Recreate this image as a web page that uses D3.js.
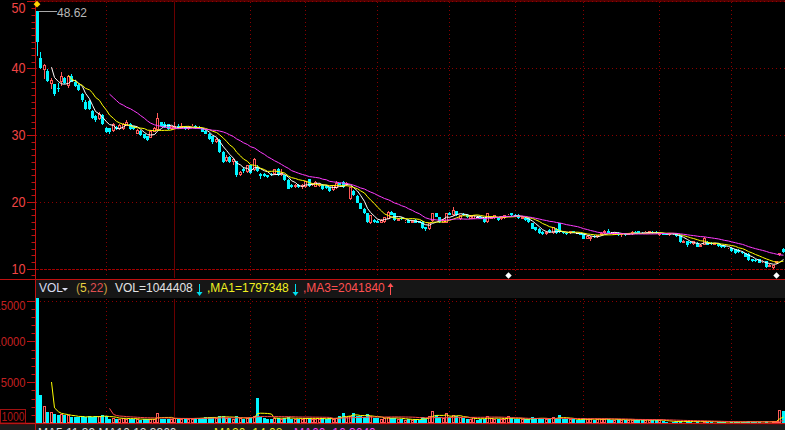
<!DOCTYPE html>
<html><head><meta charset="utf-8">
<script src="https://cdn.jsdelivr.net/npm/d3@7"></script>
<style>html,body{margin:0;padding:0;background:#000;overflow:hidden}svg{display:block}</style>
</head><body><svg id="c" width="785" height="430"></svg>
<script>
// ---- data ----
const open = [48.62,41.5,39.8,39.6,37.7,37.6,37.1,37.9,38.5,37.4,38.9,38.0,37.5,36.1,35.0,35.1,33.6,32.9,32.4,33.0,
31.0,31.0,30.6,31.2,30.9,30.9,31.4,31.7,31.3,30.2,30.6,30.1,29.8,29.6,30.5,30.8,31.9,31.7,31.6,30.9,
31.0,31.4,31.0,31.3,30.9,31.2,31.4,31.2,31.0,30.6,30.2,29.8,28.9,29.3,27.5,26.2,26.8,26.0,26.1,24.0,
25.0,24.5,25.5,24.8,25.3,24.2,24.2,24.0,24.2,24.2,25.0,24.0,24.0,23.3,22.5,22.3,22.6,22.3,22.2,23.4,
22.5,22.3,22.4,22.6,22.4,22.2,21.8,22.1,22.8,23.0,22.5,20.5,21.7,20.9,19.8,19.0,18.3,16.8,17.3,17.2,
16.9,17.0,17.5,18.5,18.3,17.2,17.6,17.0,17.3,16.9,17.3,17.1,17.0,16.2,15.9,17.2,18.3,17.7,16.9,16.9,
18.4,18.0,18.6,17.4,18.2,18.1,17.5,17.5,17.8,17.8,17.5,17.0,17.5,17.6,17.7,17.4,17.6,17.9,18.3,18.1,
18.1,17.5,17.6,17.6,16.8,16.2,16.0,15.5,15.2,15.8,15.3,16.0,16.8,15.5,15.4,15.3,15.6,15.3,15.3,15.3,
14.5,14.4,14.9,14.7,15.0,15.3,15.6,15.4,15.1,15.4,15.0,15.3,15.1,15.2,15.5,15.6,15.4,15.3,15.3,15.5,
15.5,15.0,15.3,15.2,15.0,15.3,15.3,15.0,13.9,14.1,14.0,13.7,13.9,13.3,13.6,14.0,13.9,13.6,13.8,13.5,
13.4,13.1,13.1,12.9,12.8,12.5,12.3,12.2,11.4,11.3,11.4,11.0,11.1,10.3,10.1,10.8,12.0,13.0];
const high = [48.62,42.4,40.6,39.9,38.6,37.7,37.8,39.5,38.7,39.0,39.2,38.2,37.7,36.3,35.2,35.3,33.8,33.0,33.4,33.1,
31.2,31.1,31.8,31.4,31.6,31.8,32.3,31.8,31.4,30.9,30.8,30.2,29.9,30.8,31.2,33.3,32.0,31.9,31.7,31.4,
31.9,31.6,31.8,31.4,31.3,31.6,31.5,31.3,31.1,30.7,30.3,29.9,29.6,29.4,27.6,27.0,26.9,26.6,26.2,24.7,
25.3,25.6,25.6,26.6,25.5,24.4,24.3,24.1,24.3,25.0,25.1,24.9,24.1,23.4,22.7,22.7,22.7,22.7,23.2,23.5,
22.9,23.1,22.8,22.7,22.5,22.3,22.6,23.1,22.9,23.1,23.0,22.3,21.8,21.0,19.9,19.1,18.4,18.1,17.5,17.3,
17.4,17.8,18.6,18.7,18.4,17.6,17.7,17.3,17.4,17.3,17.4,17.2,17.1,16.3,16.9,18.4,18.4,17.8,17.4,18.4,
18.5,19.2,18.7,18.1,18.3,18.2,18.0,18.1,17.9,17.9,17.6,18.4,17.9,18.1,17.8,17.8,18.1,18.2,18.4,18.2,
18.2,17.9,17.7,17.7,16.9,16.3,16.1,15.6,15.6,15.9,16.3,16.1,16.9,15.6,15.5,15.7,15.7,15.4,15.4,15.4,
15.0,14.9,15.0,15.1,15.5,15.8,15.9,15.5,15.5,15.5,15.4,15.4,15.4,15.6,15.6,15.7,15.5,15.6,15.7,15.6,
15.6,15.4,15.4,15.3,15.4,15.4,15.4,15.1,14.3,14.2,14.1,14.2,14.0,13.7,14.7,14.1,14.0,13.9,13.9,13.6,
13.5,13.3,13.2,13.0,12.9,12.6,12.4,12.3,11.5,11.4,11.5,11.3,11.2,10.7,10.6,11.2,12.4,13.1];
const low = [41.8,39.9,38.4,37.9,36.9,35.9,36.4,37.4,37.6,37.1,37.9,37.2,36.6,35.0,33.7,33.8,32.4,32.0,32.2,31.5,
30.3,30.2,30.5,30.8,30.8,30.8,31.3,30.8,30.7,30.1,29.9,29.4,29.1,29.5,30.4,30.6,31.2,31.0,30.7,30.8,
30.9,30.9,30.9,30.8,30.8,31.0,30.9,30.9,30.4,30.1,29.3,28.7,28.8,27.4,25.8,26.0,25.9,25.6,23.8,23.9,
24.3,24.4,24.2,24.6,24.5,23.5,23.8,23.6,23.9,24.1,23.9,23.9,23.2,21.9,22.1,22.1,22.1,21.9,22.1,22.3,
22.4,22.2,22.3,21.8,22.0,21.5,21.7,22.0,22.5,22.1,22.4,20.3,20.9,19.8,18.9,18.2,16.9,16.7,16.9,16.8,
16.8,16.9,17.4,18.0,17.2,17.1,17.3,16.9,16.8,16.8,16.8,16.8,16.0,15.6,15.8,17.0,17.7,16.9,16.8,16.8,
18.0,17.9,17.9,17.3,17.9,17.6,17.4,17.4,17.7,17.4,16.9,16.9,17.4,17.5,17.2,17.3,17.5,17.8,17.9,17.7,
17.5,17.4,17.2,16.9,15.9,15.7,15.2,15.1,15.1,15.4,15.2,15.2,15.4,15.2,15.1,15.2,15.3,15.2,15.0,14.4,
14.4,14.2,14.6,14.6,14.9,15.2,15.3,15.3,15.0,14.9,14.8,14.9,15.0,15.1,15.2,15.3,15.2,15.2,15.2,15.2,
15.2,14.9,15.0,15.0,14.9,15.1,14.8,13.9,13.8,13.3,13.7,13.6,13.2,13.2,13.5,13.5,13.6,13.5,13.3,13.1,
13.1,13.0,12.5,12.2,12.4,12.2,11.7,11.2,11.0,11.0,10.8,10.9,10.1,10.2,9.9,10.7,11.9,12.4];
const close = [43.9,40.0,40.5,38.1,38.3,36.2,36.9,38.9,37.8,38.9,38.0,37.4,36.8,35.2,33.9,33.9,32.5,32.2,33.2,31.7,
30.4,30.4,31.6,30.9,31.5,31.7,32.0,30.9,30.9,30.7,30.0,29.5,29.3,30.6,31.0,32.6,31.4,31.2,30.9,31.3,
31.4,31.0,31.3,30.9,31.2,31.4,31.1,31.0,30.5,30.2,29.4,28.9,29.4,27.5,26.0,26.8,26.0,26.4,24.0,24.5,
24.7,25.5,24.4,26.5,24.6,23.9,23.9,23.8,24.0,24.9,24.0,24.4,23.3,22.0,22.2,22.6,22.2,22.6,23.1,22.4,
22.8,23.0,22.7,21.9,22.1,21.6,22.5,22.8,22.6,22.2,22.9,22.2,21.0,19.9,19.0,18.3,17.0,18.0,17.0,16.9,
17.3,17.7,18.5,18.1,17.3,17.5,17.4,17.2,16.9,17.2,16.9,16.9,16.1,15.9,16.8,18.3,17.8,17.0,17.3,18.3,
18.1,18.8,18.0,18.0,18.0,17.7,17.9,18.0,17.8,17.5,17.0,18.3,17.8,18.0,17.3,17.7,18.0,18.1,18.0,17.8,
17.6,17.8,17.3,17.0,16.0,15.8,15.3,15.2,15.5,15.5,16.2,15.3,15.5,15.3,15.2,15.6,15.4,15.3,15.1,14.5,
14.9,14.8,14.7,15.0,15.4,15.7,15.4,15.4,15.4,15.0,15.3,15.0,15.3,15.5,15.3,15.4,15.3,15.5,15.6,15.3,
15.3,15.3,15.1,15.1,15.3,15.2,14.9,14.0,14.2,13.6,13.8,14.1,13.3,13.6,14.6,13.6,13.7,13.8,13.4,13.2,
13.2,13.2,12.6,12.3,12.5,12.3,11.8,11.3,11.1,11.1,10.9,11.2,10.2,10.6,10.5,11.1,12.3,12.5];
const volume = [17000,3400,2050,1340,1340,1140,1000,1100,950,950,720,720,720,880,720,800,720,800,850,1000,
800,520,650,500,550,650,500,500,480,500,420,430,430,550,500,1240,550,550,550,550,
560,550,550,550,550,550,600,600,650,700,700,750,600,870,900,650,650,550,800,600,
550,650,650,900,3050,750,600,550,550,600,650,550,600,700,550,500,550,500,600,650,
500,550,450,600,500,600,550,600,900,1190,700,900,1270,900,800,700,1100,900,600,600,
500,600,700,600,650,500,450,400,450,400,450,400,700,600,900,1450,1000,700,600,1200,
700,1000,900,700,600,500,500,700,400,500,550,800,600,500,550,500,500,850,600,450,
500,450,450,500,700,600,600,500,450,500,700,600,1000,500,450,450,450,400,400,600,
450,500,400,450,500,550,450,400,400,450,400,400,350,400,400,400,350,350,400,350,
350,350,300,150,150,120,200,250,150,200,150,150,200,150,250,150,120,100,150,150,
120,100,150,150,120,120,150,200,150,120,150,100,200,150,200,300,1600,1500];
const priceTicks = [10, 20, 30, 40, 50];
const volTicks = [5000, 10000, 15000];
const monthStartBars = [20, 40, 62, 78, 99, 120, 139, 159, 181, 202];
const yearStartBar = 40;
const maPeriods = [5, 10, 22];
const volMaPeriods = [5, 22];
const markerBars = [137, 215];
const highLabel = "48.62";

// ---- drawing ----
const W = 785, H = 430, N = close.length, STEP = 3.437, X0 = 36;
const svg = d3.select("#c");
svg.append("rect").attr("width", W).attr("height", H).attr("fill", "#000");
const x = d3.scaleBand().domain(d3.range(N)).range([X0, X0 + N * STEP]);
const bl = i => Math.round(x(i));
const cx = i => bl(i) + 1.5;
const yP = d3.scaleLinear().domain([10, 40]).range([268.8, 68.3]);
const yV = d3.scaleLinear().domain([0, 15000]).range([423, 300.7]);
const UP = "#ff5a5a", DN = "#00f4ff", GRID = "#8a0000", AX = "#c01010";
const font = "'Liberation Sans', Arial, sans-serif";

const defs = svg.append("defs");
defs.append("clipPath").attr("id", "cp").append("rect").attr("x", 36).attr("y", 0).attr("width", W - 36).attr("height", 278.5);
defs.append("clipPath").attr("id", "cv").append("rect").attr("x", 36).attr("y", 298).attr("width", W - 36).attr("height", 125);

// header strip for VOL, bottom strip
svg.append("rect").attr("x", 36).attr("y", 280).attr("width", W - 36).attr("height", 18).attr("fill", "#161616");
svg.append("rect").attr("x", 0).attr("y", 424.5).attr("width", W).attr("height", 6).attr("fill", "#1c1c1c");

const g = svg.append("g");
// horizontal grid price
priceTicks.filter(v => v > 10).forEach(v => {
  g.append("line").attr("x1", 36).attr("x2", W).attr("y1", Math.round(yP(v)) + 0.5).attr("y2", Math.round(yP(v)) + 0.5)
   .attr("stroke", GRID).attr("stroke-dasharray", "1,3");
});
g.append("line").attr("x1", 36).attr("x2", W).attr("y1", 1).attr("y2", 1).attr("stroke", "#a00000");
g.append("line").attr("x1", 36).attr("x2", W).attr("y1", Math.round(yP(10)) + 0.5).attr("y2", Math.round(yP(10)) + 0.5)
  .attr("stroke", "#a00000").attr("stroke-dasharray", "3,1");
g.append("line").attr("x1", 36).attr("x2", W).attr("y1", Math.round(yV(15000)) + 0.5).attr("y2", Math.round(yV(15000)) + 0.5)
  .attr("stroke", GRID).attr("stroke-dasharray", "1,3");
// vertical grid
monthStartBars.forEach(b => {
  const xx = cx(b);
  const solid = b === yearStartBar;
  [[2, 278], [299, 423]].forEach(([a, c]) => {
    g.append("line").attr("x1", xx).attr("x2", xx).attr("y1", a).attr("y2", c)
     .attr("stroke", solid ? "#6a0000" : GRID).attr("stroke-dasharray", solid ? null : "1,3");
  });
});

// separators and axis
svg.append("line").attr("x1", 0).attr("x2", W).attr("y1", 279.5).attr("y2", 279.5).attr("stroke", AX);
svg.append("line").attr("x1", 0).attr("x2", W).attr("y1", 423.5).attr("y2", 423.5).attr("stroke", "#d01818").attr("stroke-width", 1.5);
svg.append("line").attr("x1", 35.5).attr("x2", 35.5).attr("y1", 0).attr("y2", H).attr("stroke", AX);

// price axis ticks & labels
for (let v = 9; v <= 50; v++) {
  const yy = Math.round(yP(v)) + 0.5;
  if (yy < 0 || yy > 279) continue;
  const major = v % 10 === 0;
  svg.append("line").attr("x1", major ? 27 : 31.5).attr("x2", 35.5).attr("y1", yy).attr("y2", yy).attr("stroke", AX);
}
priceTicks.forEach(v => {
  svg.append("text").attr("x", 25.5).attr("y", Math.max(yP(v), 8) + 5).attr("text-anchor", "end")
    .attr("font-family", font).attr("font-size", 14).attr("fill", "#f04444")
    .attr("textLength", 14).attr("lengthAdjust", "spacingAndGlyphs").text(v);
});
// volume axis ticks & labels
for (let v = 1000; v <= 15000; v += 1000) {
  const yy = Math.round(yV(v)) + 0.5;
  const major = v % 5000 === 0;
  svg.append("line").attr("x1", major ? 27 : 31.5).attr("x2", 35.5).attr("y1", yy).attr("y2", yy).attr("stroke", AX);
}
volTicks.forEach(v => {
  const s = String(v);
  svg.append("text").attr("x", 25.5).attr("y", Math.max(yV(v), 305) + 5).attr("text-anchor", "end")
    .attr("font-family", font).attr("font-size", 13).attr("fill", "#c42020")
    .attr("textLength", s.length * 6.2).attr("lengthAdjust", "spacingAndGlyphs").text(s);
});
svg.append("rect").attr("x", 0.5).attr("y", 409.5).attr("width", 25).attr("height", 13.5)
  .attr("fill", "#000").attr("stroke", "#a01010");
svg.append("text").attr("x", 1.5).attr("y", 421).attr("font-family", font).attr("font-size", 13)
  .attr("fill", "#b01818").attr("textLength", 23).attr("lengthAdjust", "spacingAndGlyphs").text("1000");

// candles
const pc = svg.append("g").attr("clip-path", "url(#cp)").attr("shape-rendering", "crispEdges");
d3.range(N).forEach(i => {
  const o = open[i], c = close[i], h = high[i], l = low[i];
  const yo = Math.round(yP(o)), yc = Math.round(yP(c)), yh = Math.round(yP(h)), yl = Math.round(yP(l));
  const left = bl(i), mid = left + 1.5;
  if (c > o) {
    pc.append("line").attr("x1", mid).attr("x2", mid).attr("y1", yh).attr("y2", yc).attr("stroke", UP);
    pc.append("line").attr("x1", mid).attr("x2", mid).attr("y1", yo).attr("y2", yl).attr("stroke", UP);
    pc.append("rect").attr("x", left + 0.5).attr("y", yc + 0.5).attr("width", 2).attr("height", Math.max(yo - yc - 1, 0))
      .attr("fill", "#000").attr("stroke", UP);
  } else if (c < o) {
    pc.append("line").attr("x1", mid).attr("x2", mid).attr("y1", yh).attr("y2", yl).attr("stroke", DN);
    pc.append("rect").attr("x", left).attr("y", yo).attr("width", 3).attr("height", Math.max(yc - yo, 1)).attr("fill", DN);
  } else {
    pc.append("line").attr("x1", mid).attr("x2", mid).attr("y1", yh).attr("y2", yl).attr("stroke", "#fff");
    pc.append("line").attr("x1", left).attr("x2", left + 3).attr("y1", yo + 0.5).attr("y2", yo + 0.5).attr("stroke", "#fff");
  }
});

function sma(arr, p) {
  return arr.map((_, i) => i < p - 1 ? null : d3.mean(arr.slice(i - p + 1, i + 1)));
}
const maColors = ["#ffffff", "#ffff00", "#ff3cff"];
maPeriods.forEach((p, k) => {
  const m = sma(close, p);
  const line = d3.line().defined(i => m[i] != null).x(i => cx(i)).y(i => yP(m[i]));
  svg.append("path").attr("clip-path", "url(#cp)").attr("d", line(d3.range(N)))
    .attr("fill", "none").attr("stroke", maColors[k]).attr("stroke-width", 1);
});

// high label
const hi = d3.maxIndex(high);
const yhi = Math.round(yP(high[hi])) + 0.5;
svg.append("line").attr("x1", cx(hi) + 1).attr("x2", 57).attr("y1", yhi).attr("y2", yhi).attr("stroke", "#a8a8a8");
svg.append("text").attr("x", 57).attr("y", yhi + 5).attr("font-family", font).attr("font-size", 13)
  .attr("fill", "#b8b8b8").attr("textLength", 30).attr("lengthAdjust", "spacingAndGlyphs").text(highLabel);
const diamond = (xx, yy, r, col) => svg.append("path")
  .attr("d", `M${xx},${yy - r}L${xx + r},${yy}L${xx},${yy + r}L${xx - r},${yy}Z`).attr("fill", col);
diamond(cx(hi) - 0.5, 4.2, 3.4, "#ffd400");
markerBars.forEach(b => diamond(cx(b), 275.5, 3.2, "#ffffff"));

// volume bars
const vc = svg.append("g").attr("clip-path", "url(#cv)").attr("shape-rendering", "crispEdges");
d3.range(N).forEach(i => {
  const yt = Math.round(yV(volume[i])), yb = 423;
  const left = bl(i);
  if (close[i] > open[i]) {
    vc.append("rect").attr("x", left + 0.5).attr("y", yt + 0.5).attr("width", 2).attr("height", Math.max(yb - yt - 1, 0))
      .attr("fill", "#000").attr("stroke", UP);
  } else {
    vc.append("rect").attr("x", left).attr("y", yt).attr("width", 3).attr("height", Math.max(yb - yt, 1)).attr("fill", DN);
  }
});
const volMaColors = ["#ffff00", "#ff4848"];
volMaPeriods.forEach((p, k) => {
  const m = sma(volume, p);
  const line = d3.line().defined(i => m[i] != null).x(i => cx(i)).y(i => yV(m[i]));
  svg.append("path").attr("clip-path", "url(#cv)").attr("d", line(d3.range(N)))
    .attr("fill", "none").attr("stroke", volMaColors[k]).attr("stroke-width", 1);
});

// VOL header
const hdr = svg.append("g").attr("font-family", font).attr("font-size", 12);
const put = (xx, s, col) => hdr.append("text").attr("x", xx).attr("y", 292).attr("fill", col).text(s);
put(39, "VOL", "#d8dcf0");
svg.append("path").attr("d", "M62,288L68,288L65,291Z").attr("fill", "#d8dcf0");
const t2 = hdr.append("text").attr("x", 76).attr("y", 292);
t2.append("tspan").attr("fill", "#c8a040").text("(");
t2.append("tspan").attr("fill", "#e8d040").text("5");
t2.append("tspan").attr("fill", "#c8a040").text(",");
t2.append("tspan").attr("fill", "#e05050").text("22");
t2.append("tspan").attr("fill", "#c8a040").text(")");
put(115, "VOL=1044408", "#e4e4e4");
const arrow = (xx, up, col) => {
  svg.append("line").attr("x1", xx).attr("x2", xx).attr("y1", 284).attr("y2", 295).attr("stroke", col);
  svg.append("path").attr("d", up ? `M${xx - 3},${287}L${xx},${283}L${xx + 3},${287}Z` : `M${xx - 3},${292}L${xx},${296}L${xx + 3},${292}Z`).attr("fill", col);
};
arrow(199.5, false, "#00e0f0");
put(207, ",MA1=1797348", "#f0f020");
arrow(295.5, false, "#00e0f0");
put(303, ",MA3=2041840", "#ff5050");
arrow(390.5, true, "#ff5050");

// truncated bottom indicator line
const bt = svg.append("g").attr("font-family", font).attr("font-size", 12);
const bput = (xx, s, col) => bt.append("text").attr("x", xx).attr("y", 437).attr("fill", col).text(s);
bput(38, "MA5  11.39  MA10  12.3360", "#e0e0e0");
bput(214, "MA20=14.08", "#f0f020");
bput(294, "MA60=16.3640", "#ff44ff");
</script></body></html>
